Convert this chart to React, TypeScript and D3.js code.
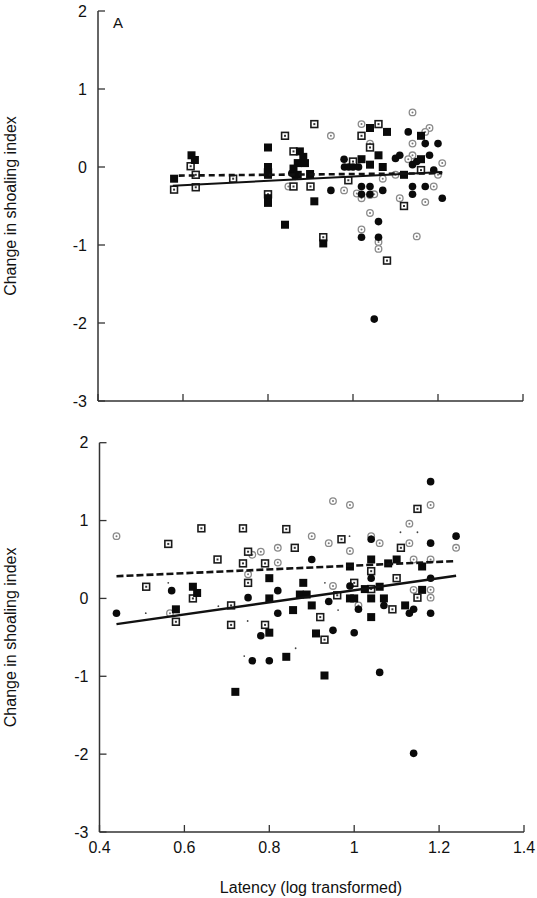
import { useEffect, useRef } from 'react';
import * as d3 from 'd3';

type Pt = [number, number];

// Panel A (top)
const topFilledSquares: Pt[] = [
  [0.579, -0.15], [0.62, 0.15], [0.628, 0.09], [0.8, 0.25], [0.8, 0.0], [0.8, -0.1],
  [0.8, -0.4], [0.8, -0.46], [0.84, -0.74], [0.875, 0.2], [0.883, 0.13], [0.87, 0.05],
  [0.887, 0.05], [0.86, -0.02], [0.87, -0.1], [0.899, -0.09], [0.909, -0.44], [0.93, -0.98],
  [1.02, 0.1], [1.04, 0.5], [1.08, 0.45], [1.06, 0.15], [1.04, 0.03], [1.07, 0.0],
  [1.16, 0.4], [1.16, 0.1], [1.12, -0.1],
];
const topOpenSquares: Pt[] = [
  [0.579, -0.29], [0.618, 0.01], [0.63, -0.1], [0.63, -0.26], [0.718, -0.15], [0.8, -0.07],
  [0.8, -0.35], [0.84, 0.4], [0.909, 0.55], [0.86, 0.2], [0.86, -0.25], [0.9, -0.25],
  [0.93, -0.9], [1.0, 0.07], [0.989, -0.17], [1.06, 0.55], [1.02, 0.4], [1.04, 0.25],
  [1.08, -1.2], [1.16, -0.04], [1.12, -0.5],
];
const topFilledCircles: Pt[] = [
  [0.856, -0.08], [0.864, -0.12], [0.948, -0.3], [0.979, 0.1], [0.98, 0.0], [0.99, 0.0],
  [1.0, 0.0], [1.013, 0.0], [1.02, -0.25], [1.02, -0.35], [1.04, -0.25], [1.04, -0.35],
  [1.07, -0.3], [1.06, -0.7], [1.02, -0.9], [1.06, -0.9], [1.05, -1.95], [1.13, 0.45],
  [1.17, 0.3], [1.2, 0.3], [1.1, 0.11], [1.11, 0.15], [1.18, 0.15], [1.14, 0.03],
  [1.15, 0.07], [1.19, -0.04], [1.14, -0.25], [1.14, -0.35], [1.17, -0.25], [1.21, -0.4],
];
const topGreyCircles: Pt[] = [
  [0.848, -0.25], [0.948, 0.4], [0.979, -0.3], [1.02, 0.55], [1.04, 0.3], [1.07, -0.15],
  [1.009, -0.34], [1.02, -0.4], [1.04, -0.36], [1.05, -0.35], [1.04, -0.59], [1.02, -0.8],
  [1.06, -0.96], [1.06, -1.05], [1.14, 0.7], [1.18, 0.5], [1.17, 0.45], [1.14, 0.3],
  [1.14, 0.15], [1.13, 0.1], [1.21, 0.05], [1.2, -0.1], [1.1, -0.1], [1.19, -0.25],
  [1.11, -0.4], [1.17, -0.45], [1.15, -0.89],
];
const topSolidFit: Pt[] = [[0.576, -0.24], [1.21, -0.065]];
const topDashedFit: Pt[] = [[0.59, -0.11], [1.21, -0.08]];

// Panel B (bottom)
const botFilledSquares: Pt[] = [
  [0.8, 0.26], [0.62, 0.15], [0.63, 0.07], [0.8, 0.0], [0.58, -0.14], [0.8, -0.44],
  [1.04, 0.5], [0.99, 0.41], [1.08, 0.45], [1.16, 0.41], [1.1, 0.5], [0.88, 0.2],
  [0.872, 0.05], [0.888, 0.05], [0.856, -0.15], [0.9, -0.09], [0.99, 0.0], [1.0, 0.0],
  [1.025, 0.12], [1.04, 0.0], [1.06, 0.15], [1.07, 0.0], [1.04, -0.24], [1.12, -0.09],
  [1.16, 0.11], [0.91, -0.45], [0.84, -0.75], [0.93, -0.99], [0.72, -1.2],
];
const botOpenSquares: Pt[] = [
  [0.562, 0.7], [0.64, 0.9], [0.738, 0.9], [0.678, 0.5], [0.75, 0.6], [0.738, 0.45],
  [0.79, 0.45], [0.75, 0.2], [0.51, 0.15], [0.62, 0.0], [0.58, -0.3], [0.71, -0.09],
  [0.71, -0.34], [0.79, -0.34], [1.149, 1.15], [0.84, 0.89], [0.97, 0.76], [0.86, 0.65],
  [1.11, 0.65], [1.04, 0.35], [1.0, 0.2], [1.1, 0.26], [0.96, 0.04], [1.04, 0.12],
  [0.92, -0.24], [1.09, -0.14], [1.149, 0.01], [0.93, -0.53],
];
const botFilledCircles: Pt[] = [
  [0.57, 0.1], [0.75, 0.01], [0.82, 0.1], [0.44, -0.19], [0.78, -0.48], [0.82, -0.19],
  [1.18, 1.5], [1.04, 0.76], [1.18, 0.71], [1.24, 0.8], [0.9, 0.5], [1.04, 0.26],
  [1.18, 0.26], [0.94, -0.04], [0.99, 0.16], [1.01, -0.14], [1.07, -0.09], [1.13, -0.19],
  [1.14, -0.14], [1.18, -0.19], [0.95, -0.41], [1.0, -0.44], [0.76, -0.8], [0.8, -0.8],
  [1.06, -0.95], [1.14, -1.99],
];
const botGreyCircles: Pt[] = [
  [0.44, 0.8], [0.76, 0.56], [0.78, 0.6], [0.82, 0.65], [0.75, 0.31], [0.566, -0.19],
  [0.95, 1.25], [0.99, 1.2], [1.18, 1.2], [1.13, 0.96], [0.9, 0.8], [0.94, 0.71],
  [1.04, 0.8], [1.06, 0.71], [1.13, 0.71], [1.24, 0.65], [0.99, 0.61], [0.82, 0.46],
  [1.14, 0.5], [1.18, 0.5], [0.95, 0.16], [1.01, -0.09], [1.14, 0.11], [1.18, 0.11],
  [1.18, 0.01],
];
const botSpecks: Pt[] = [
  [0.989, 0.8], [0.931, 0.2], [1.109, 0.85], [1.149, 0.85], [0.962, -0.15], [0.741, -0.74],
  [0.862, -0.64], [0.749, -0.29], [0.562, 0.2], [0.509, -0.19], [0.68, -0.1],
];
const botSolidFit: Pt[] = [[0.44, -0.33], [1.24, 0.29]];
const botDashedFit: Pt[] = [[0.44, 0.285], [1.24, 0.48]];

const xTicks = [0.4, 0.6, 0.8, 1, 1.2, 1.4];
const yTicks = [2, 1, 0, -1, -2, -3];

const FONT = 'Arial, "Liberation Sans", sans-serif';

export default function App() {
  const svgRef = useRef<SVGSVGElement | null>(null);

  useEffect(() => {
    if (!svgRef.current) return;
    const svg = d3.select(svgRef.current);
    svg.selectAll('*').remove();

    const drawPanel = (opts: any) => {
      const x = d3.scaleLinear().domain([0.4, 1.4]).range(opts.xr);
      const y = d3.scaleLinear().domain([-3, 2]).range(opts.yr);
      const g = svg.append('g');

      // axes with inward ticks
      g.append('line')
        .attr('x1', opts.xr[0]).attr('x2', opts.xr[0])
        .attr('y1', opts.yr[1]).attr('y2', opts.yr[0])
        .attr('stroke', '#333').attr('stroke-width', 1.5);
      g.append('line')
        .attr('x1', opts.xr[0]).attr('x2', opts.xr[1])
        .attr('y1', opts.yr[0]).attr('y2', opts.yr[0])
        .attr('stroke', '#333').attr('stroke-width', 1.5);

      yTicks.forEach(t => {
        g.append('line')
          .attr('x1', opts.xr[0]).attr('x2', opts.xr[0] + 7)
          .attr('y1', y(t)).attr('y2', y(t))
          .attr('stroke', '#333').attr('stroke-width', 1.3);
        g.append('text')
          .attr('x', opts.xr[0] - 11).attr('y', y(t))
          .attr('dy', '0.35em')
          .attr('text-anchor', 'end')
          .attr('font-size', 16).attr('font-family', FONT).attr('fill', '#111')
          .text(String(t));
      });

      xTicks.forEach(t => {
        g.append('line')
          .attr('x1', x(t)).attr('x2', x(t))
          .attr('y1', opts.yr[0]).attr('y2', opts.yr[0] - 7)
          .attr('stroke', '#333').attr('stroke-width', 1.3);
        if (opts.xLabels) {
          g.append('text')
            .attr('x', x(t)).attr('y', opts.yr[0] + 21)
            .attr('text-anchor', 'middle')
            .attr('font-size', 16).attr('font-family', FONT).attr('fill', '#111')
            .text(String(t));
        }
      });

      const midY = (opts.yr[0] + opts.yr[1]) / 2;
      g.append('text')
        .attr('transform', `translate(10,${midY}) rotate(-90)`)
        .attr('dy', '0.35em')
        .attr('text-anchor', 'middle')
        .attr('font-size', 16).attr('font-family', FONT).attr('fill', '#111')
        .text('Change in shoaling index');

      // markers
      (opts.specks || []).forEach((d: Pt) => {
        g.append('circle').attr('cx', x(d[0])).attr('cy', y(d[1])).attr('r', 0.9).attr('fill', '#444');
      });
      opts.greyCircles.forEach((d: Pt) => {
        g.append('circle').attr('cx', x(d[0])).attr('cy', y(d[1])).attr('r', 3.3)
          .attr('fill', '#fff').attr('stroke', '#8a8a8a').attr('stroke-width', 1.3);
        g.append('circle').attr('cx', x(d[0])).attr('cy', y(d[1])).attr('r', 1).attr('fill', '#777');
      });
      opts.openSquares.forEach((d: Pt) => {
        g.append('rect').attr('x', x(d[0]) - 3.4).attr('y', y(d[1]) - 3.4)
          .attr('width', 6.8).attr('height', 6.8)
          .attr('fill', '#fff').attr('stroke', '#1a1a1a').attr('stroke-width', 1.6);
        g.append('rect').attr('x', x(d[0]) - 1).attr('y', y(d[1]) - 1)
          .attr('width', 2).attr('height', 2).attr('fill', '#333');
      });
      opts.filledCircles.forEach((d: Pt) => {
        g.append('circle').attr('cx', x(d[0])).attr('cy', y(d[1])).attr('r', 3.8).attr('fill', '#0a0a0a');
      });
      opts.filledSquares.forEach((d: Pt) => {
        g.append('rect').attr('x', x(d[0]) - 4).attr('y', y(d[1]) - 4)
          .attr('width', 8).attr('height', 8).attr('fill', '#0a0a0a');
      });

      // fitted lines
      const line = d3.line<Pt>().x(d => x(d[0])).y(d => y(d[1]));
      g.append('path').attr('d', line(opts.solid))
        .attr('fill', 'none').attr('stroke', '#111').attr('stroke-width', opts.solidW);
      g.append('path').attr('d', line(opts.dashed))
        .attr('fill', 'none').attr('stroke', '#111').attr('stroke-width', 2.6)
        .attr('stroke-dasharray', opts.dash);

      if (opts.tag) {
        g.append('text')
          .attr('x', opts.xr[0] + 15).attr('y', opts.yr[1] + 17)
          .attr('font-size', 15).attr('font-family', FONT).attr('fill', '#111')
          .text(opts.tag);
      }
    };

    drawPanel({
      xr: [98, 523], yr: [401, 11], xLabels: false, tag: 'A',
      filledSquares: topFilledSquares, openSquares: topOpenSquares,
      filledCircles: topFilledCircles, greyCircles: topGreyCircles,
      solid: topSolidFit, dashed: topDashedFit, solidW: 2, dash: '6,4',
    });
    drawPanel({
      xr: [99.5, 524], yr: [832, 442.7], xLabels: true,
      filledSquares: botFilledSquares, openSquares: botOpenSquares,
      filledCircles: botFilledCircles, greyCircles: botGreyCircles, specks: botSpecks,
      solid: botSolidFit, dashed: botDashedFit, solidW: 2.5, dash: '7,3',
    });

    svg.append('text')
      .attr('x', 311).attr('y', 893)
      .attr('text-anchor', 'middle')
      .attr('font-size', 16).attr('font-family', FONT).attr('fill', '#111')
      .text('Latency (log transformed)');
  }, []);

  return (
    <svg
      ref={svgRef}
      width={537}
      height={898}
      style={{ position: 'absolute', left: 0, top: 0, background: '#fff', display: 'block' }}
    />
  );
}
